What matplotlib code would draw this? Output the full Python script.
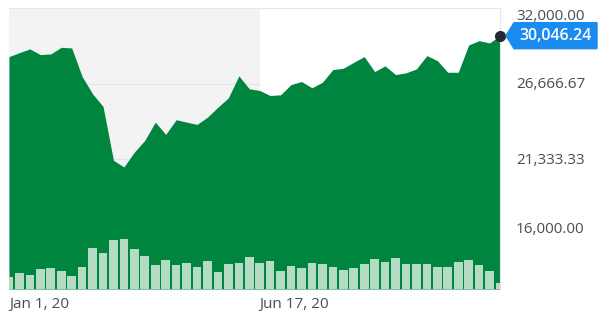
import numpy as np
import pandas as pd
import matplotlib
matplotlib.use("Agg")
import matplotlib.pyplot as plt
import matplotlib.dates as mdates
import matplotlib.transforms as mtransforms
from matplotlib.patches import Polygon

# weekly closes, Jan 1 2020 -> Nov 25 2020
dates = pd.date_range("2020-01-01", periods=48, freq="7D")
closes = [28568, 28850, 29110, 28709, 28758, 29223, 29180, 27160, 25941, 25047,
          21245, 20773, 21829, 22653, 23942, 23076, 24111, 23942, 23780, 24294,
          24998, 25660, 27209, 26294, 26174, 25822, 25871, 26596, 26808, 26364,
          26758, 27652, 27744, 28166, 28568, 27512, 27913, 27300, 27420, 27702,
          28638, 28286, 27462, 27462, 29392, 29695, 29533, 30046.24]
volumes = [12.3, 16.3, 14.0, 20.3, 20.7, 17.7, 13.3, 22.3, 41.0, 36.3,
           48.7, 50.3, 39.7, 33.0, 23.7, 29.3, 23.8, 25.7, 22.3, 28.3,
           17.3, 24.8, 26.5, 31.7, 25.7, 28.0, 17.8, 23.5, 20.7, 25.7,
           24.7, 22.3, 19.0, 21.3, 25.3, 30.3, 26.7, 30.7, 24.7, 24.7,
           24.7, 21.7, 21.7, 26.7, 29.3, 23.7, 17.7, 5.7]
y_ticks = [16000.00, 21333.33, 26666.67, 32000.00]
y_labels = ["16,000.00", "21,333.33", "26,666.67", "32,000.00"]
x_ticks = [pd.Timestamp("2020-01-01"), pd.Timestamp("2020-06-17")]
x_labels = ["Jan 1, 20", "Jun 17, 20"]
last_label = "30,046.24"

GREEN = "#00853f"
BAR = "#b4dcc4"
TXT = "#464e56"

plt.rcParams["font.family"] = ["Open Sans", "DejaVu Sans"]

fig = plt.figure(figsize=(6, 3.18), dpi=100)
ax = fig.add_axes([9 / 600, 29 / 318, 491 / 600, 281 / 318])
ymin, ymax = 12160, 32000
ax.set_ylim(ymin, ymax)
ax.set_xlim(dates[0], dates[-1])

# shaded first half + gridlines inside it
ax.axvspan(x_ticks[0], x_ticks[1], color="#f3f3f3", zorder=0, lw=0)
ax.hlines(y_ticks[:-1], x_ticks[0], x_ticks[1], color="#e4e4e4", lw=0.8, zorder=0.5)

ax.fill_between(dates, closes, ymin, color=GREEN, lw=0, zorder=1)

# volume bars on their own scale
ax2 = ax.twinx()
ax2.set_ylim(0, 281)
ax2.bar(dates, volumes, width=5.8, color=BAR, lw=0, zorder=2)
ax2.set_xlim(dates[0], dates[-1])
ax2.axis("off")

for s in ["left", "bottom"]:
    ax.spines[s].set_visible(False)
ax.spines["top"].set_color("#e6e6e6")
ax.spines["right"].set_color("#e6e6e6")
ax.spines["top"].set_linewidth(0.8)
ax.spines["right"].set_linewidth(0.8)

ax.yaxis.tick_right()
ax.set_yticks(y_ticks)
ax.set_yticklabels(y_labels)
ax.tick_params(axis="y", length=0, pad=11.5, labelsize=11, labelcolor=TXT)
ax.set_xticks(x_ticks)
ax.set_xticklabels(x_labels)
ax.tick_params(axis="x", length=0, pad=6, labelsize=11, labelcolor=TXT)
for lab in ax.get_xticklabels():
    lab.set_horizontalalignment("left")

# nudge outer labels like the original
for lab, dy in zip(ax.get_yticklabels(), [7, 1, 1, -7]):
    lab.set_transform(lab.get_transform() + mtransforms.ScaledTranslation(0, dy / 100, fig.dpi_scale_trans))

# last-price marker and tag
ax.plot(dates[-1], closes[-1], "o", color="#232a31", ms=7, zorder=5, clip_on=False)
anchor = fig.dpi_scale_trans + mtransforms.ScaledTranslation(mdates.date2num(dates[-1]), closes[-1], ax.transData)
tag = Polygon(np.array([[6, 0], [14, 13], [97, 13], [97, -13], [14, -13]]) / 100,
              closed=True, transform=anchor, color="#1a8cf0", clip_on=False, zorder=6)
ax.add_patch(tag)
ax.text(0.555, 0.0, last_label, transform=anchor, color="white", fontsize=11.5,
        fontweight="semibold", ha="center", va="center", zorder=7, clip_on=False)

fig.savefig("out.png", dpi=100)
